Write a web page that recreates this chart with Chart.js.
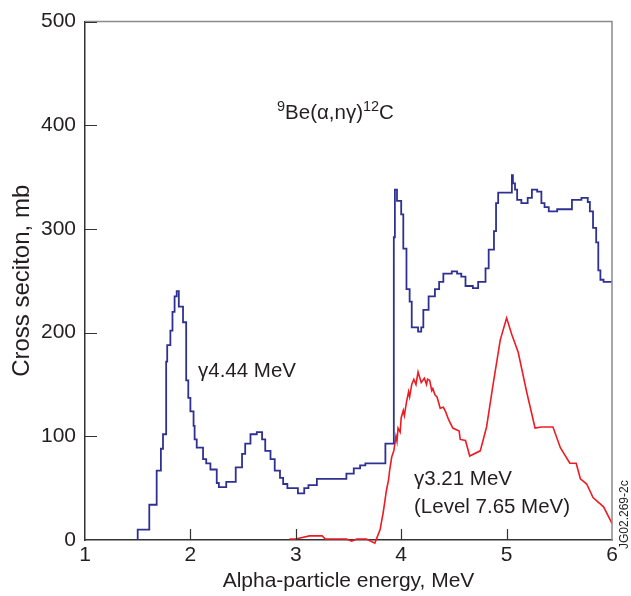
<!DOCTYPE html>
<html>
<head>
<meta charset="utf-8">
<script src="https://cdn.jsdelivr.net/npm/chart.js@4.4.1/dist/chart.umd.min.js"></script>
<style>
  html, body { margin: 0; padding: 0; background: #fff; }
</style>
</head>
<body>
<canvas id="chart" width="631" height="596"></canvas>
<script>
// Histogram for gamma 4.44 MeV (step edges in MeV, cross section in mb)
const blueEnergy = [1.50, 1.61, 1.68, 1.72, 1.74, 1.77, 1.78, 1.81, 1.83, 1.85, 1.87, 1.89, 1.93, 1.96, 1.98,
  2.00, 2.03, 2.04, 2.06, 2.12, 2.15, 2.19, 2.25, 2.27, 2.34, 2.43, 2.49, 2.52, 2.57, 2.63, 2.68, 2.71, 2.76,
  2.80, 2.85, 2.88, 2.92, 3.02, 3.08, 3.12, 3.20, 3.48, 3.55, 3.61, 3.66, 3.85, 3.93, 3.94, 3.96, 4.00, 4.02,
  4.05, 4.08, 4.10, 4.16, 4.19, 4.21, 4.26, 4.32, 4.36, 4.40, 4.48, 4.53, 4.57, 4.61, 4.68, 4.73, 4.80, 4.83,
  4.88, 4.90, 4.92, 5.05, 5.06, 5.08, 5.10, 5.14, 5.20, 5.24, 5.29, 5.33, 5.36, 5.40, 5.48, 5.62, 5.71, 5.77,
  5.79, 5.82, 5.85, 5.87, 5.89, 5.92, 5.96, 6.00];
const blueSigma = [0, 10, 34, 67, 88, 102, 172, 188, 202, 220, 235, 240, 225, 210, 154,
  137, 124, 110, 97, 89, 78, 74, 68, 55, 51, 56, 70, 83, 93, 102, 104, 97, 86,
  78, 67, 60, 54, 50, 45, 50, 53, 59, 64, 69, 72, 74, 93, 292, 338, 327, 314,
  281, 242, 230, 205, 201, 205, 222, 235, 242, 249, 257, 259, 257, 254, 245, 243, 249, 262,
  280, 298, 325, 335, 352, 344, 338, 328, 325, 330, 338, 336, 325, 321, 317, 319, 328, 330,
  326, 317, 301, 287, 260, 251, 249, 249];

// gamma 3.21 MeV (Level 7.65 MeV)
const redEnergy = [2.94, 3.00, 3.13, 3.18, 3.25, 3.28, 3.48, 3.53, 3.58, 3.67, 3.75, 3.80, 3.83, 3.86, 3.88,
  3.89, 3.91, 3.93, 3.95, 3.96, 3.97, 3.99, 4.00, 4.02, 4.03, 4.05, 4.07, 4.08, 4.10, 4.12, 4.14, 4.16, 4.19,
  4.22, 4.24, 4.25, 4.27, 4.29, 4.30, 4.32, 4.34, 4.37, 4.40, 4.42, 4.45, 4.49, 4.55, 4.56, 4.61, 4.65, 4.75,
  4.81, 4.87, 4.94, 5.00, 5.05, 5.11, 5.19, 5.27, 5.33, 5.44, 5.51, 5.60, 5.66, 5.70, 5.76, 5.82, 5.92, 6.00];
const redSigma = [1, 1, 4, 4, 4, 1, 1, -1, 1, 1, -3, 10, 27, 48, 58,
  67, 80, 86, 100, 95, 108, 104, 118, 125, 120, 133, 143, 138, 150, 155, 150, 162, 152,
  156, 150, 155, 154, 144, 146, 140, 138, 127, 128, 124, 116, 108, 105, 97, 96, 81, 86,
  109, 149, 193, 214, 198, 181, 143, 108, 109, 109, 89, 74, 74, 59, 54, 41, 32, 16];

const xTicks = [1, 2, 3, 4, 5, 6];
const yTicks = [0, 100, 200, 300, 400, 500];

const blueColor = '#2e3192';
const redColor = '#ed1c24';
const textColor = '#231f20';
const fontFamily = '"Liberation Sans", Arial, Helvetica, sans-serif';

// Inward tick marks, frame and annotations
const framePlugin = {
  id: 'frame',
  afterDraw(chart) {
    const ctx = chart.ctx;
    const x = chart.scales.x;
    const y = chart.scales.y;
    const area = chart.chartArea;
    ctx.save();

    // top and right frame
    ctx.strokeStyle = '#8a8a8a';
    ctx.lineWidth = 1.5;
    ctx.beginPath();
    ctx.moveTo(area.left, area.top);
    ctx.lineTo(area.right, area.top);
    ctx.lineTo(area.right, area.bottom);
    ctx.stroke();

    // ticks pointing into the plot
    ctx.strokeStyle = '#333';
    ctx.lineWidth = 1.2;
    ctx.beginPath();
    yTicks.slice(1).forEach(v => {
      const py = Math.round(y.getPixelForValue(v)) + 0.5;
      ctx.moveTo(area.left, py);
      ctx.lineTo(area.left + 12, py);
    });
    xTicks.slice(1, -1).forEach(v => {
      const px = Math.round(x.getPixelForValue(v)) + 0.5;
      ctx.moveTo(px, area.bottom);
      ctx.lineTo(px, area.bottom - 11);
    });
    ctx.stroke();

    // annotations
    ctx.fillStyle = textColor;
    ctx.textBaseline = 'alphabetic';
    ctx.textAlign = 'left';
    const big = '20.5px ' + fontFamily;
    const small = '14.5px ' + fontFamily;

    let tx = 277, ty = 119;
    ctx.font = small; ctx.fillText('9', tx, ty - 8); tx += ctx.measureText('9').width;
    ctx.font = big; ctx.fillText('Be(α,nγ)', tx, ty); tx += ctx.measureText('Be(α,nγ)').width;
    ctx.font = small; ctx.fillText('12', tx, ty - 8); tx += ctx.measureText('12').width;
    ctx.font = big; ctx.fillText('C', tx, ty);

    ctx.fillText('γ4.44 MeV', 198, 377);
    ctx.fillText('γ3.21 MeV', 414, 485);
    ctx.fillText('(Level 7.65 MeV)', 414, 513);

    // figure code on the right
    ctx.font = '12px ' + fontFamily;
    ctx.translate(628, 549);
    ctx.rotate(-Math.PI / 2);
    ctx.fillText('JG02.269-2c', 0, 0);
    ctx.restore();
  }
};

new Chart(document.getElementById('chart'), {
  type: 'line',
  data: {
    datasets: [
      {
        label: 'γ4.44 MeV',
        data: blueEnergy.map((e, i) => ({ x: e, y: blueSigma[i] })),
        borderColor: blueColor,
        borderWidth: 1.8,
        stepped: 'after',
        pointRadius: 0,
        fill: false
      },
      {
        label: 'γ3.21 MeV',
        data: redEnergy.map((e, i) => ({ x: e, y: redSigma[i] })),
        borderColor: redColor,
        borderWidth: 1.6,
        tension: 0,
        pointRadius: 0,
        fill: false,
        clip: 6
      }
    ]
  },
  options: {
    responsive: false,
    animation: false,
    layout: { padding: { top: 14, right: 19, left: 0, bottom: 0 } },
    plugins: {
      legend: { display: false },
      tooltip: { enabled: false }
    },
    scales: {
      x: {
        type: 'linear',
        min: 1,
        max: 6,
        afterBuildTicks: s => { s.ticks = xTicks.map(v => ({ value: v })); },
        afterFit: s => { s.height = 56; },
        grid: { display: false, drawTicks: false },
        border: { display: true, color: '#333', width: 1.5 },
        ticks: { color: textColor, padding: 3, font: { family: fontFamily, size: 21 } },
        title: {
          display: true,
          text: 'Alpha-particle energy, MeV',
          color: textColor,
          padding: { top: 0, bottom: 2 },
          font: { family: fontFamily, size: 21 }
        }
      },
      y: {
        min: 0,
        max: 500,
        afterBuildTicks: s => { s.ticks = yTicks.map(v => ({ value: v })); },
        afterFit: s => { s.width = 85; },
        grid: { display: false, drawTicks: false },
        border: { display: true, color: '#333', width: 1.5 },
        ticks: { color: textColor, padding: 9, font: { family: fontFamily, size: 21 } },
        title: {
          display: true,
          text: 'Cross seciton, mb',
          color: textColor,
          padding: { bottom: 0, top: 8 },
          font: { family: fontFamily, size: 24 }
        }
      }
    }
  },
  plugins: [framePlugin]
});
</script>
</body>
</html>
